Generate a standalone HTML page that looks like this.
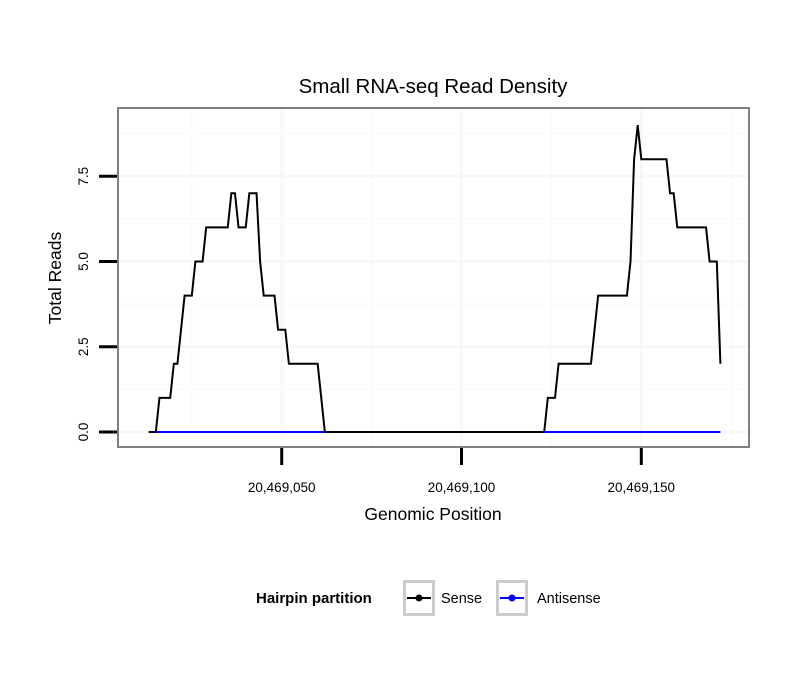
<!DOCTYPE html>
<html><head><meta charset="utf-8"><style>
body{margin:0;background:#fff;}
svg{display:block;font-family:"Liberation Sans",Arial,sans-serif;}
</style></head><body>
<svg id="chart" width="810" height="690">
<rect width="810" height="690" fill="#fff"/>
<text x="433" y="93" text-anchor="middle" font-size="20.5" fill="#000">Small RNA-seq Read Density</text>
<g id="grid"></g>
<g id="series"></g>
<rect x="118" y="108" width="631" height="339" fill="none" stroke="#808080" stroke-width="2"/>
<g id="axes"></g>
<text x="433" y="520" text-anchor="middle" font-size="17.5">Genomic Position</text>
<text transform="translate(61,278) rotate(-90)" text-anchor="middle" font-size="17.5">Total Reads</text>
<g>
<text x="256" y="603" font-size="15" font-weight="bold">Hairpin partition</text>
<g>
<rect x="404.5" y="581.5" width="29" height="33" fill="#fff" stroke="#ccc" stroke-width="3"/>
<line x1="407" y1="598" x2="431" y2="598" stroke="#000" stroke-width="2"/>
<circle cx="419" cy="598" r="3.5" fill="#000"/>
<text x="441" y="603" font-size="14.5">Sense</text>
</g>
<g>
<rect x="497.5" y="581.5" width="29" height="33" fill="#fff" stroke="#ccc" stroke-width="3"/>
<line x1="500" y1="598" x2="524" y2="598" stroke="#00f" stroke-width="2"/>
<circle cx="512" cy="598" r="3.5" fill="#00f"/>
<text x="537" y="603" font-size="14.5">Antisense</text>
</g>
</g>
</svg>
<script>
const BASE = 20469000;
const senseStart = 13;
const senseValues = [0,0,0,1,1,1,1,2,2,3,4,4,4,5,5,5,6,6,6,6,6,6,6,7,7,6,6,6,7,7,7,5,4,4,4,4,3,3,3,2,2,2,2,2,2,2,2,2,1,0,
0,0,0,0,0,0,0,0,0,0,0,0,0,0,0,0,0,0,0,0,0,0,0,0,0,0,0,0,0,0,0,0,0,0,0,0,0,0,0,0,0,0,0,0,0,0,0,0,0,0,0,0,0,0,0,0,0,0,0,0,0,
1,1,1,2,2,2,2,2,2,2,2,2,2,3,4,4,4,4,4,4,4,4,4,5,8,9,8,8,8,8,8,8,8,8,7,7,6,6,6,6,6,6,6,6,6,5,5,5,2];
const antiSegments = [[15,62],[123,172]];
const antiValue = 0;
const xTicks = [20469050,20469100,20469150];
const xTickLabels = ["20,469,050","20,469,100","20,469,150"];
const yTicks = [0,2.5,5,7.5];
const yTickLabels = ["0.0","2.5","5.0","7.5"];

const X0 = 281.7, PX_PER_BP = 3.596;
function xs(p){return X0 + (p-20469050)*PX_PER_BP;}
function ys(v){return 432 - v*34.1;}
const NS="http://www.w3.org/2000/svg";
function mk(tag,attrs,parent){const e=document.createElementNS(NS,tag);for(const k in attrs)e.setAttribute(k,attrs[k]);parent.appendChild(e);return e;}
const grid=document.getElementById('grid'), series=document.getElementById('series'), axes=document.getElementById('axes');
for(let i=0;i<xTicks.length;i++){
  const l=mk('line',{x1:xs(xTicks[i]),x2:xs(xTicks[i]),y1:108,y2:447,stroke:'#f7f7f7','stroke-width':2.5},grid);
  
  
}
for(let i=-1;i<xTicks.length;i++){
  const p=xTicks[0]+25+i*50;
  const l=mk('line',{x1:xs(p),x2:xs(p),y1:108,y2:447,stroke:'#fafafa','stroke-width':1.5},grid);
  
  
}
for(let i=0;i<yTicks.length;i++){
  const l=mk('line',{x1:118,x2:749,y1:ys(yTicks[i]),y2:ys(yTicks[i]),stroke:'#f7f7f7','stroke-width':2.5},grid);
  
  
  const m=mk('line',{x1:118,x2:749,y1:ys(yTicks[i]+1.25),y2:ys(yTicks[i]+1.25),stroke:'#fafafa','stroke-width':1.5},grid);
  
  
}
let d='';
senseValues.forEach((v,i)=>{d+=(i?'L':'M')+xs(BASE+senseStart+i).toFixed(2)+','+ys(v).toFixed(2);});
const sl=mk('path',{d:d,fill:'none',stroke:'#000','stroke-width':2,'stroke-linejoin':'miter'},series);


antiSegments.forEach(s=>{
  const al=mk('line',{x1:xs(BASE+s[0]),x2:xs(BASE+s[1]),y1:ys(antiValue),y2:ys(antiValue),stroke:'#00f','stroke-width':2},series);
  
  
});
for(let i=0;i<xTicks.length;i++){
  const t=mk('line',{x1:xs(xTicks[i]),x2:xs(xTicks[i]),y1:448,y2:465,stroke:'#000','stroke-width':3},axes);
  
  
  const tx=mk('text',{x:xs(xTicks[i]),y:492,'text-anchor':'middle','font-size':13.5},axes);
  tx.textContent=xTickLabels[i];
  
  
}
for(let i=0;i<yTicks.length;i++){
  const t=mk('line',{x1:99,x2:117,y1:ys(yTicks[i]),y2:ys(yTicks[i]),stroke:'#000','stroke-width':3},axes);
  
  
  const tx=mk('text',{transform:'translate(88,'+ys(yTicks[i])+') rotate(-90)','text-anchor':'middle','font-size':13.5},axes);
  tx.textContent=yTickLabels[i];
  
  
}
</script>
</body></html>
